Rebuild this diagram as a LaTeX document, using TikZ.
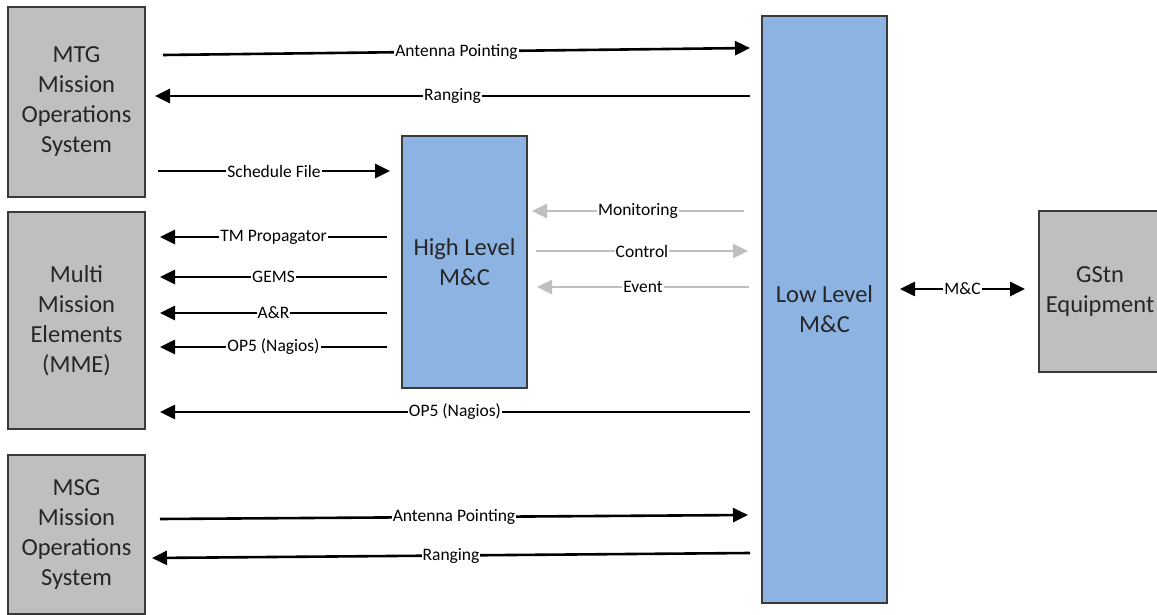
\documentclass[tikz,border=0pt]{standalone}
\usepackage{fontspec}
\setmainfont{Carlito}
\usetikzlibrary{arrows.meta}
\definecolor{boxgray}{HTML}{BFBFBF}
\definecolor{boxblue}{HTML}{8DB3E2}
\definecolor{edgecol}{HTML}{3A3A3A}
\definecolor{txtcol}{HTML}{262626}
\definecolor{softcol}{HTML}{BFBFBF}
\begin{document}
\begin{tikzpicture}[x=1pt,y=-1pt,
  box/.style={draw=edgecol, line width=1.3pt, align=center, text=txtcol,
    font=\fontsize{24.5}{30}\selectfont, inner sep=0pt},
  graybox/.style={box, fill=boxgray},
  bluebox/.style={box, fill=boxblue},
  flow/.style={line width=2.6pt, draw=black, -{Triangle[length=15pt,width=14pt]}},
  twoway/.style={line width=2.6pt, draw=black, {Triangle[length=15pt,width=14pt]}-{Triangle[length=15pt,width=14pt]}},
  softflow/.style={line width=2.4pt, draw=softcol, -{Triangle[length=15pt,width=14pt]}},
  lbl/.style={fill=white, inner xsep=1pt, inner ysep=0pt, text=black,
    font=\fontsize{17.5}{20}\selectfont}]
\useasboundingbox (0,0) rectangle (1157,615);

% boxes
\node[graybox, minimum width=137pt, minimum height=190pt] (mtg) at (76.5,102) {MTG\\Mission\\Operations\\System};
\node[graybox, minimum width=137pt, minimum height=217pt] (mme) at (76.5,320.5) {Multi\\Mission\\Elements\\(MME)};
\node[graybox, minimum width=137pt, minimum height=159pt] (msg) at (76.5,534.5) {MSG\\Mission\\Operations\\System};
\node[bluebox, minimum width=125pt, minimum height=252pt] (hl) at (464.5,262) {High Level\\M\&C};
\node[bluebox, minimum width=125pt, minimum height=587pt] (ll) at (824.5,309.5) {Low Level\\M\&C};
\node[graybox, minimum width=122pt, minimum height=161pt] (gstn) at (1100,291.5) {GStn\\Equipment};

% connector end points
\coordinate (apAs) at (163,55);  \coordinate (apAe) at (750,48);
\coordinate (rgAs) at (750,96);  \coordinate (rgAe) at (155,96);
\coordinate (sfs) at (158,171);  \coordinate (sfe) at (390,171);
\coordinate (tms) at (387,237);  \coordinate (tme) at (160,237);
\coordinate (gms) at (387,277);  \coordinate (gme) at (160,277);
\coordinate (ars) at (387,313);  \coordinate (are) at (160,313);
\coordinate (ops) at (387,347);  \coordinate (ope) at (160,347);
\coordinate (mos) at (744,211);  \coordinate (moe) at (532,211);
\coordinate (cos) at (536,251);  \coordinate (coe) at (748,251);
\coordinate (evs) at (749,287);  \coordinate (eve) at (537,287);
\coordinate (olS) at (750,412);  \coordinate (olE) at (160,412);
\coordinate (apBs) at (160,519); \coordinate (apBe) at (748,515);
\coordinate (rgBs) at (750,553); \coordinate (rgBe) at (152,558);
\coordinate (mcs) at (900,289);  \coordinate (mce) at (1025,289);

% connectors
\draw[flow] (apAs) -- node[lbl]{Antenna Pointing} (apAe);
\draw[flow] (rgAs) -- node[lbl]{Ranging} (rgAe);
\draw[flow] (sfs) -- node[lbl]{Schedule File} (sfe);
\draw[flow] (tms) -- node[lbl]{TM Propagator} (tme);
\draw[flow] (gms) -- node[lbl]{GEMS} (gme);
\draw[flow] (ars) -- node[lbl]{A\&R} (are);
\draw[flow] (ops) -- node[lbl]{OP5 (Nagios)} (ope);
\draw[softflow] (mos) -- node[lbl]{Monitoring} (moe);
\draw[softflow] (cos) -- node[lbl]{Control} (coe);
\draw[softflow] (evs) -- node[lbl]{Event} (eve);
\draw[flow] (olS) -- node[lbl]{OP5 (Nagios)} (olE);
\draw[flow] (apBs) -- node[lbl]{Antenna Pointing} (apBe);
\draw[flow] (rgBs) -- node[lbl]{Ranging} (rgBe);
\draw[twoway] (mcs) -- node[lbl]{M\&C} (mce);
\end{tikzpicture}
\end{document}
